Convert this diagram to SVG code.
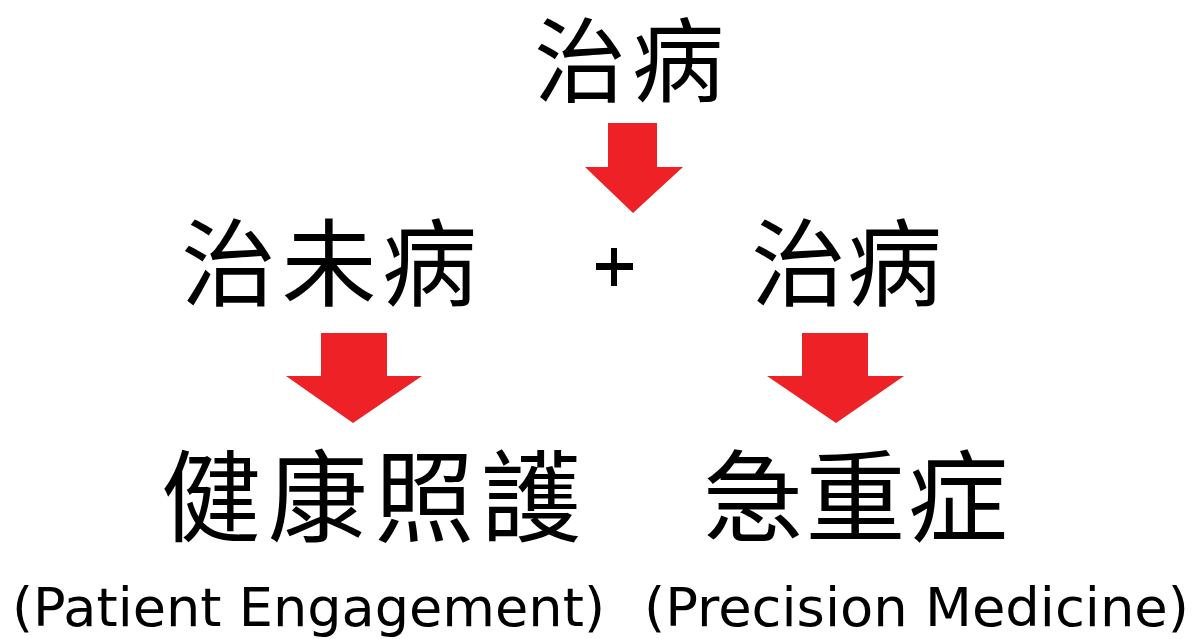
<svg xmlns="http://www.w3.org/2000/svg" width="1199" height="639" viewBox="0 0 1199 639">
  <style>
    .zh { font-family: "Noto Sans CJK TC", "Noto Sans CJK SC", sans-serif; fill: #000; }
    .en { font-family: "DejaVu Sans", "Liberation Sans", sans-serif; fill: #000; font-size: 54px; }
    .arrow { fill: #EE2127; }
  </style>
  <rect width="1199" height="639" fill="#fff"/>
  <g id="node-top">
    <text class="zh" x="534" y="95" font-size="92" textLength="190" lengthAdjust="spacing">治病</text>
  </g>
  <g id="node-prevent">
    <text class="zh" x="181" y="299" font-size="95" textLength="296" lengthAdjust="spacing">治未病</text>
  </g>
  <g id="node-plus">
    <rect x="611" y="248" width="6" height="38" fill="#000"/>
    <rect x="596" y="263" width="37" height="7" fill="#000"/>
  </g>
  <g id="node-treat">
    <text class="zh" x="751" y="299" font-size="95" textLength="191" lengthAdjust="spacing">治病</text>
  </g>
  <g id="node-health">
    <text class="zh" x="161" y="534" font-size="100" textLength="420" lengthAdjust="spacing">健康照護</text>
    <text class="en" x="12" y="626" textLength="593" lengthAdjust="spacingAndGlyphs">(Patient Engagement)</text>
  </g>
  <g id="node-acute">
    <text class="zh" x="703" y="534" font-size="100" textLength="305" lengthAdjust="spacing">急重症</text>
    <text class="en" x="644" y="626" textLength="545" lengthAdjust="spacingAndGlyphs">(Precision Medicine)</text>
  </g>
  <g id="connectors">
    <polygon class="arrow" points="608,123 657,123 657,167 683,167 633,213 585,167 608,167"/>
    <polygon class="arrow" points="321,333 387,333 387,376 422,376 353,423 286,376 321,376"/>
    <polygon class="arrow" points="802,333 868,333 868,376 904,376 836,423 767,376 802,376"/>
  </g>
</svg>
